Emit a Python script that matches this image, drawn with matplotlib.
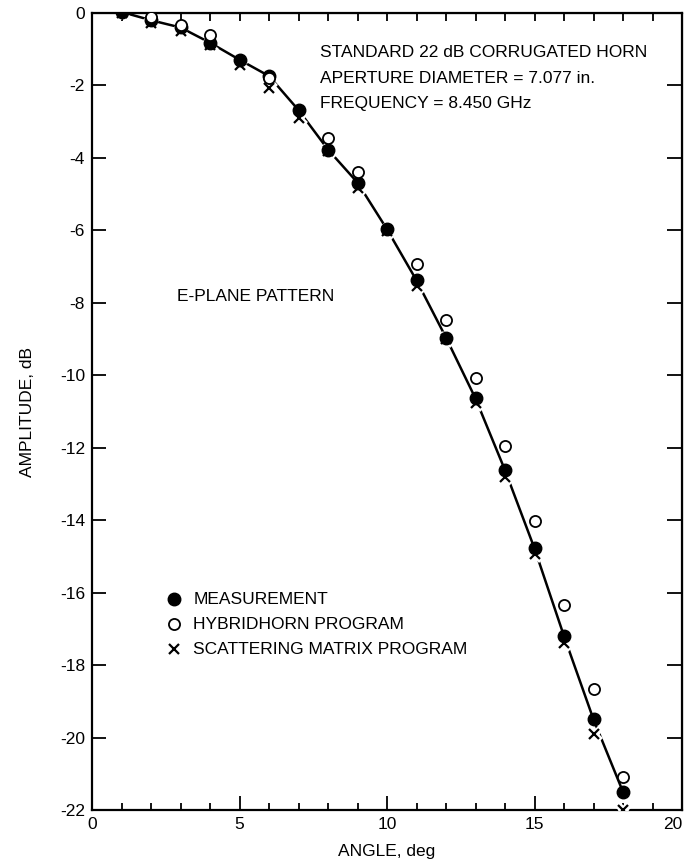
import matplotlib
matplotlib.use('Agg')
from matplotlib import pyplot as plt

plt.rcParams['font.family'] = ['Liberation Sans', 'DejaVu Sans']
plt.rcParams['axes.unicode_minus'] = False
plt.rc('font', size=12.5)

# angle, deg
angle = [1, 2, 3, 4, 5, 6, 7, 8, 9, 10, 11, 12, 13, 14, 15, 16, 17, 18]
# measurement (filled circles), dB
meas = [0.03, -0.2, -0.4, -0.82, -1.29, -1.74, -2.68, -3.77, -4.68, -5.97,
        -7.38, -8.96, -10.64, -12.62, -14.78, -17.2, -19.5, -21.5]
# hybridhorn program (open circles)
hyb_angle = [2, 3, 4, 6, 8, 9, 11, 12, 13, 14, 15, 16, 17, 18]
hyb = [-0.12, -0.32, -0.6, -1.8, -3.45, -4.39, -6.93, -8.47, -10.08, -11.94,
       -14.02, -16.33, -18.67, -21.09]
# scattering matrix program (crosses)
scat = [0.0, -0.28, -0.5, -0.88, -1.43, -2.07, -2.9, -3.82, -4.83, -6.02,
        -7.53, -9.0, -10.77, -12.8, -14.92, -17.4, -19.91, -21.99]

fig = plt.figure(figsize=(6.87, 8.66), dpi=100)
ax = fig.add_axes([92/687, 1-810/866, 590/687, 797/866])

ax.plot(angle, meas, color='black', lw=1.8, zorder=2)
ax.plot(angle, scat, ls='none', marker='x', ms=8, mew=5, color='white', zorder=3)
ax.plot(angle, scat, ls='none', marker='x', ms=7, mew=1.6, color='black', zorder=4)
ax.plot(angle, meas, ls='none', marker='o', ms=9, color='black', zorder=5)
ax.plot(hyb_angle, hyb, ls='none', marker='o', ms=8, mfc='white', mec='black',
        mew=1.3, zorder=6)

ax.set_xlim(0, 20)
ax.set_ylim(-22, 0)
ax.set_xticks([0, 5, 10, 15, 20])
ax.set_xticks(range(21), minor=True)
ax.set_yticks(range(-22, 1, 2))
ax.tick_params(which='major', direction='in', length=10, width=1.3, pad=5)
ax.tick_params(which='minor', direction='in', length=5, width=1.3)
ax.tick_params(axis='y', which='minor', left=False)
for s in ax.spines.values():
    s.set_linewidth(1.6)
ax.get_xticklabels()[-1].set_horizontalalignment('right')

top = ax.secondary_xaxis('top')
top.set_xticks(range(21))
top.set_xticklabels([])
top.tick_params(direction='in', length=6, width=1.3)
right = ax.secondary_yaxis('right')
right.set_yticks(range(-22, 1, 2))
right.set_yticklabels([])
right.tick_params(direction='in', length=11, width=1.3)

ax.set_xlabel('ANGLE, deg', labelpad=9)
ax.set_ylabel('AMPLITUDE, dB', labelpad=18)

ax.text(7.73, -1.10, 'STANDARD 22 dB CORRUGATED HORN', va='center')
ax.text(7.73, -1.82, 'APERTURE DIAMETER = 7.077 in.', va='center')
ax.text(7.73, -2.49, 'FREQUENCY = 8.450 GHz', va='center')
ax.text(2.88, -7.83, 'E-PLANE PATTERN', va='center')

ax.plot([2.79], [-16.18], marker='o', ms=9, color='black')
ax.plot([2.79], [-16.87], marker='o', ms=8, mfc='white', mec='black', mew=1.3)
ax.plot([2.79], [-17.56], marker='x', ms=7, mew=1.6, color='black')
ax.text(3.44, -16.18, 'MEASUREMENT', va='center')
ax.text(3.44, -16.87, 'HYBRIDHORN PROGRAM', va='center')
ax.text(3.44, -17.56, 'SCATTERING MATRIX PROGRAM', va='center')

plt.savefig('out.png', dpi=100)
